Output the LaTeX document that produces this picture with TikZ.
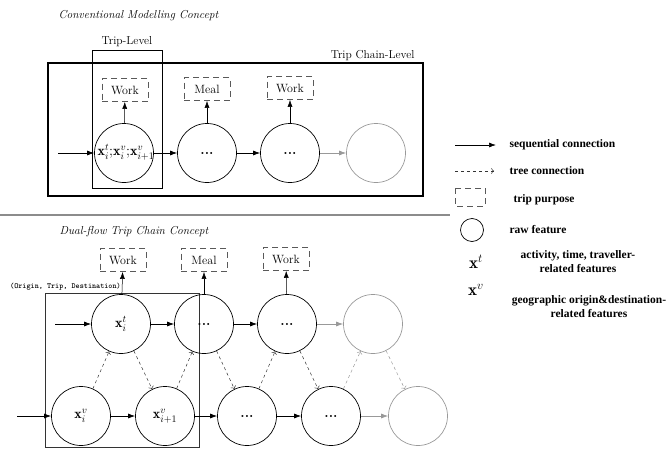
\documentclass[tikz,border=0pt]{standalone}
\usepackage{fontspec}
\usepackage{amsmath}
\usetikzlibrary{arrows.meta}
\newfontfamily\legendfont{Liberation Serif}
\begin{document}
\begin{tikzpicture}[x = 1pt, y = -1pt,
    feat/.style = {circle, draw, line width = .7pt, minimum size = 59pt, inner sep = 0pt,
      font = \fontsize{14}{15}\selectfont},
    faded/.style = {feat, draw = black!40},
    purpose/.style = {draw = black!65, line width = .8pt, dash pattern = on 6pt off 4pt,
      minimum width = 46pt, minimum height = 23pt, inner sep = 0pt, font = \fontsize{12}{13}\selectfont},
    seq/.style = {-{Latex[length = 7pt, width = 5pt]}, line width = .7pt},
    seqfaded/.style = {seq, draw = black!40, fill = black!40},
    tree/.style = {->, dashed, line width = .5pt, black!80},
    treefaded/.style = {tree, black!40},
    lvl/.style = {font = \fontsize{11.5}{12}\selectfont},
    legtext/.style = {anchor = west, font = \legendfont\bfseries\fontsize{11.5}{14}\selectfont}]
      \useasboundingbox (0,0) rectangle (669,450);
      \node [anchor = west, font = \itshape\fontsize{11.5}{12}\selectfont] (convtitle) at (55,16) {Conventional Modelling Concept};
      \node [lvl] (triplabel) at (127,42) {Trip-Level};
      \node [lvl, anchor = east] (chainlabel) at (418,56) {Trip Chain-Level};
      \draw [line width = .9pt] (92,50) rectangle (162,188);
      \draw [line width = 1.4pt] (48,63) rectangle (423,196);
      \node [feat] (c1) at (124,153) {};
      \node [font = \fontsize{14}{15}\selectfont, inner sep = 0pt] (c1label) at (126,152) {$\mathbf{x}_i^t{;}\mathbf{x}_i^v{;}\mathbf{x}_{i+1}^v$};
      \node [feat] (c2) at (207,153) {\textbf{...}};
      \node [feat] (c3) at (290,153) {\textbf{...}};
      \node [faded] (c4) at (376,153) {};
      \node [purpose] (p1) at (125,90) {Work};
      \node [purpose] (p2) at (207,89) {Meal};
      \node [purpose] (p3) at (290,88) {Work};
      \coordinate (in1) at (58,153);
      \draw [seq] (in1) -- (c1);
      \draw [seq] (c1) -- (c2);
      \draw [seq] (c2) -- (c3);
      \draw [seqfaded] (c3) -- (c4);
      \draw [seq, line width = .5pt] (c1) -- (p1);
      \draw [seq, line width = .5pt] (c2) -- (p2);
      \draw [seq, line width = .5pt] (c3) -- (p3);
      \draw [black!45, line width = 1.5pt] (0,215) -- (450,215);
      \node [anchor = west, font = \itshape\fontsize{11.5}{12}\selectfont] (dualtitle) at (56,232) {Dual-flow Trip Chain Concept};
      \node [anchor = west, font = \ttfamily\bfseries\fontsize{7.8}{8}\selectfont, inner sep = 1pt] (odt) at (9,287) {(Origin, Trip, Destination)};
      \draw [line width = .7pt, black!80] (45,293) rectangle (199,447);
      \node [feat] (t1) at (121,324) {$\mathbf{x}_i^t$};
      \node [feat] (t2) at (204,324) {\textbf{...}};
      \node [feat] (t3) at (287,324) {\textbf{...}};
      \node [faded] (t4) at (373,324) {};
      \node [feat] (b1) at (81,416) {$\mathbf{x}_i^v$};
      \node [feat] (b2) at (165,416) {$\mathbf{x}_{i+1}^v$};
      \node [feat] (b3) at (247,416) {\textbf{...}};
      \node [feat] (b4) at (331,416) {\textbf{...}};
      \node [faded] (b5) at (418,416) {};
      \node [purpose] (q1) at (123,260) {Work};
      \node [purpose] (q2) at (204,260) {Meal};
      \node [purpose] (q3) at (286,259) {Work};
      \coordinate (in2) at (55,324);
      \coordinate (in3) at (17,416);
      \draw [seq] (in2) -- (t1);
      \draw [seq] (t1) -- (t2);
      \draw [seq] (t2) -- (t3);
      \draw [seqfaded] (t3) -- (t4);
      \draw [seq] (in3) -- (b1);
      \draw [seq] (b1) -- (b2);
      \draw [seq] (b2) -- (b3);
      \draw [seq] (b3) -- (b4);
      \draw [seqfaded] (b4) -- (b5);
      \draw [seq, line width = .5pt] (t1) -- (q1);
      \draw [seq, line width = .5pt] (t2) -- (q2);
      \draw [seq, line width = .5pt] (t3) -- (q3);
      \draw [tree] (b1) -- (t1);
      \draw [tree] (t1) -- (b2);
      \draw [tree] (b2) -- (t2);
      \draw [tree] (t2) -- (b3);
      \draw [tree] (b3) -- (t3);
      \draw [tree] (t3) -- (b4);
      \draw [treefaded] (b4) -- (t4);
      \draw [treefaded] (t4) -- (b5);
      \coordinate (seqa) at (455,145);
      \coordinate (seqb) at (496,145);
      \draw [seq] (seqa) -- (seqb);
      \node [legtext] (seqtext) at (506,145) {sequential connection};
      \coordinate (treea) at (455,171);
      \coordinate (treeb) at (494,171);
      \draw [tree] (treea) -- (treeb);
      \node [legtext] (treetext) at (506,171) {tree connection};
      \draw [black!65, line width = .8pt, dash pattern = on 6pt off 4pt] (455,188) rectangle (485,206);
      \node [legtext] (purposetext) at (510,200) {trip purpose};
      \node [circle, draw, line width = .7pt, minimum size = 23pt, inner sep = 0pt] (rawsym) at (472,230) {};
      \node [legtext] (rawtext) at (506,230) {raw feature};
      \node [font = \fontsize{17}{18}\selectfont] (xtsym) at (476,262) {$\mathbf{x}^t$};
      \node [legtext, anchor = center, align = center] (xttext) at (578,262) {activity, time, traveller-\\related features};
      \node [font = \fontsize{17}{18}\selectfont] (xvsym) at (476,290) {$\mathbf{x}^v$};
      \node [legtext, anchor = center, align = center] (xvtext) at (589,307) {geographic origin\&destination-\\related features};
    \end{tikzpicture}
\end{document}
